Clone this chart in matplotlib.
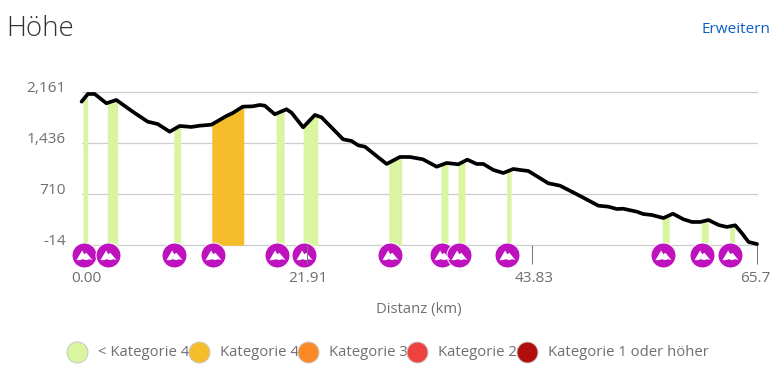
import numpy as np
import matplotlib
matplotlib.use("Agg")
import matplotlib.pyplot as plt
from matplotlib.lines import Line2D
from matplotlib.path import Path
from matplotlib.transforms import ScaledTranslation

# ---------- data ----------
distance_km = [0.0, 0.61, 1.27, 2.41, 3.38, 4.97, 6.43, 7.40, 8.57, 9.54, 10.68, 11.49, 12.63,
               14.09, 14.70, 15.68, 16.65, 17.33, 17.82, 18.79, 19.93, 20.42, 21.55, 22.69,
               23.34, 25.44, 26.26, 26.90, 27.56, 29.67, 30.96, 31.94, 33.20, 34.54, 35.51,
               36.64, 37.52, 38.43, 39.08, 40.05, 41.02, 42.00, 42.65, 43.46, 45.40, 46.54,
               48.49, 50.27, 51.25, 52.06, 52.68, 54.01, 54.63, 55.47, 56.60, 57.52, 58.55,
               59.37, 60.18, 60.98, 61.96, 62.77, 63.58, 64.24, 64.88, 65.7]
elevation_m = [2024, 2133, 2133, 2001, 2048, 1882, 1740, 1707, 1598, 1679, 1665, 1683, 1697,
               1821, 1863, 1953, 1958, 1977, 1967, 1845, 1916, 1868, 1660, 1835,
               1802, 1490, 1466, 1405, 1385, 1140, 1239, 1239, 1206, 1101, 1154,
               1135, 1201, 1140, 1140, 1055, 1012, 1069, 1055, 1040, 866, 832,
               686, 548, 534, 501, 505, 463, 430, 416, 373, 434, 355,
               317, 317, 345, 274, 246, 270, 156, 33, 4]
climb_start_km = [0.13, 2.50, 8.96, 12.66, 18.92, 21.55, 29.89, 34.96, 36.61, 41.35, 56.48, 60.27, 63.03]
climb_end_km = [0.58, 3.50, 9.64, 15.77, 19.70, 22.98, 31.13, 35.64, 37.29, 41.77, 57.16, 60.95, 63.52]
climb_category = [0, 0, 0, 1, 0, 0, 0, 0, 0, 0, 0, 0, 0]
marker_km = [0.22, 2.56, 9.03, 12.76, 19.02, 21.62, 29.96, 35.09, 36.71, 41.41, 56.58, 60.37, 63.07]
y_ticks = [-14, 710, 1436, 2161]
y_tick_labels = ["-14", "710", "1,436", "2,161"]
x_ticks = [0.0, 21.91, 43.83, 65.7]
x_tick_labels = ["0.00", "21.91", "43.83", "65.7"]
legend_labels = ["< Kategorie 4", "Kategorie 4", "Kategorie 3", "Kategorie 2", "Kategorie 1 oder höher"]
category_colors = ["#d9f5a0", "#f5bd2b", "#fb8a26", "#f04141", "#b10e0e"]

# ---------- layout ----------
W, H = 780, 380
plt.rcParams["font.family"] = ["Open Sans", "DejaVu Sans"]
fig = plt.figure(figsize=(W / 100, H / 100), dpi=100)
left, right, top, bottom = 81.6, 757, 92, 245.3
ax = fig.add_axes([left / W, 1 - bottom / H, (right - left) / W, (bottom - top) / H])
ax.set_xlim(0, 65.7)
ax.set_ylim(-14, 2161)
for s in ax.spines.values():
    s.set_visible(False)
ax.patch.set_visible(False)
TXT = "#6f6f6f"
px = 72 / 100

for v in y_ticks:
    ax.axhline(v, color="#cccccc", lw=1.2 * px, zorder=0.5, clip_on=False)

# climb segments
dist = np.array(distance_km)
elev = np.array(elevation_m)
for a, b, c in zip(climb_start_km, climb_end_km, climb_category):
    inner = dist[(dist > a) & (dist < b)]
    xs = np.concatenate(([a], inner, [b]))
    ax.fill_between(xs, -14, np.interp(xs, dist, elev), color=category_colors[c], lw=0, zorder=1)

# profile line
ax.plot(dist, elev, color="black", lw=3.7 * px, zorder=3, solid_joinstyle="round",
        solid_capstyle="round", clip_on=False)

# climb markers below axis
trans = ax.get_xaxis_transform()
marker_y = -10 / (bottom - top)
ax.plot(marker_km, [marker_y] * len(marker_km), ls="none", marker="o", ms=25 * px, mfc="#bf12bf",
        mec="white", mew=1.0 * px, transform=trans, clip_on=False, zorder=2)
mountain = Path([(-1, -0.58), (-0.3, 0.62), (-0.02, 0.16), (0.24, 0.34), (1, -0.58),
                 (0.6, -0.46), (0.2, -0.58), (-0.2, -0.46), (-0.6, -0.58), (-1, -0.58)], closed=True)
ax.plot(marker_km, [marker_y] * len(marker_km), ls="none", marker=mountain, ms=16 * px, mfc="white",
        mec="white", mew=0, transform=trans, clip_on=False, zorder=2.1)

# axes ticks
ax.set_axisbelow(False)
ax.xaxis.set_zorder(2.5)
ax.yaxis.set_zorder(2.5)
ax.set_xticks(x_ticks, x_tick_labels)
ax.set_yticks(y_ticks, y_tick_labels)
ax.tick_params(axis="x", length=18.5 * px, width=1 * px, color="#777777", labelsize=11.1,
               labelcolor=TXT, pad=7.5 * px)
ax.tick_params(axis="y", length=0, labelsize=11.1, labelcolor=TXT, pad=15.5 * px)
ax.xaxis.get_major_ticks()[0].tick1line.set_visible(False)
for lab, dx in zip(ax.get_xticklabels(), [5, 1, 1.5, -2]):
    lab.set_transform(lab.get_transform() + ScaledTranslation(dx / 100, 0, fig.dpi_scale_trans))
for lab in ax.get_yticklabels():
    lab.set_transform(lab.get_transform() + ScaledTranslation(0, 6 / 100, fig.dpi_scale_trans))

# titles
def ftext(x, y, s, **kw):
    fig.text(x / W, 1 - y / H, s, va="center", **kw)

ftext(6.5, 29, "Höhe", fontsize=20, color="#333333", fontweight="light")
ftext(770, 29.5, "Erweitern", fontsize=11, color="#0a5fc8", ha="right")
ftext(419, 309, "Distanz (km)", fontsize=10.75, color=TXT, ha="center")

# legend
legend_cx = [76.7, 199.3, 308, 417.3, 527.3]
legend_tx = [97.5, 219.5, 329, 438, 547.5]
for i, (lab, col) in enumerate(zip(legend_labels, category_colors)):
    ftext(legend_tx[i], 353, lab, fontsize=10.7, color=TXT)
for i, col in enumerate(category_colors):
    fig.add_artist(Line2D([legend_cx[i] / W], [1 - 351.7 / H], transform=fig.transFigure, marker="o",
                          ms=21 * px, mfc=col, mec="#c8c8c8", mew=1 * px, ls="none", zorder=5))

fig.savefig("out.png", dpi=100)
